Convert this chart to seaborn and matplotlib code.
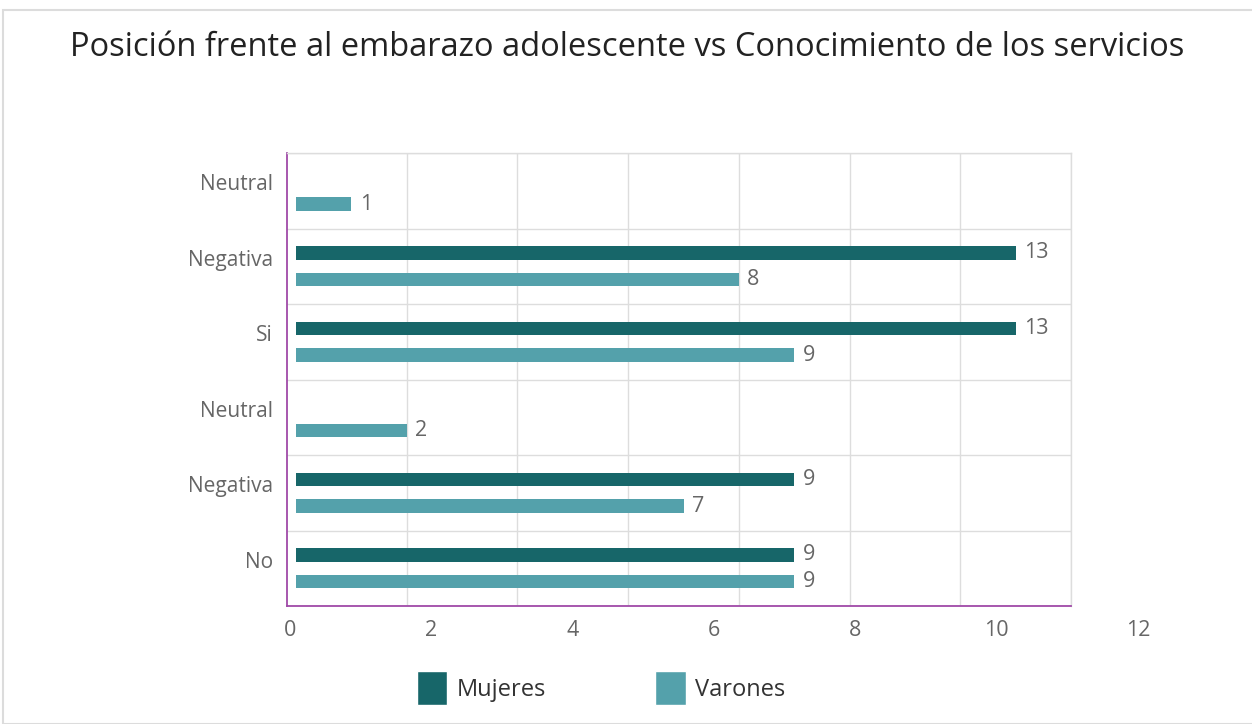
import matplotlib
matplotlib.use("Agg")
import matplotlib.pyplot as plt
import matplotlib.transforms as mtransforms
import seaborn as sns
import pandas as pd
import numpy as np
from matplotlib.patches import Rectangle

# ---- data ----
filas = ["Si-Neutral", "Si-Negativa", "Si", "No-Neutral", "No-Negativa", "No"]
etiquetas = ["Neutral", "Negativa", "Si", "Neutral", "Negativa", "No"]
mujeres = [np.nan, 13, 13, np.nan, 9, 9]
varones = [1, 8, 9, 2, 7, 9]
series = ["Mujeres", "Varones"]
colores = ["#176669", "#54a1ab"]
xticks_lbl = [0, 2, 4, 6, 8, 10, 12]
titulo = "Posición frente al embarazo adolescente vs Conocimiento de los servicios"

df = pd.DataFrame({
    "fila": filas * 2,
    "valor": mujeres + varones,
    "serie": [series[0]] * len(filas) + [series[1]] * len(filas),
})

sns.set_theme(style="white")
FONT = ["Open Sans", "DejaVu Sans"]
plt.rcParams["font.family"] = FONT

W, H = 1252, 724
fig = plt.figure(figsize=(W / 100, H / 100), dpi=100)

# card border
fig.patches.append(Rectangle((3 / W, 0), 1.2, 1 - 10 / H, transform=fig.transFigure,
                             fill=False, edgecolor="#dcdcdc", linewidth=1.5))

ax_l, ax_r, ax_t, ax_b = 287, 1071, 153, 606
ax = fig.add_axes([ax_l / W, 1 - ax_b / H, (ax_r - ax_l) / W, (ax_b - ax_t) / H])

sns.barplot(data=df, y="fila", x="valor", hue="serie", order=filas,
            hue_order=series, palette=colores, orient="h", width=0.712, gap=0.5,
            ax=ax, legend=False, saturation=1, linewidth=0, err_kws={"linewidth": 0})

ax.set_xlim(-0.163, 14)
ax.set_ylim(len(filas) - 0.5, -0.5)
ax.set_xticks(np.arange(2, 15, 2))
ax.set_xticklabels([])
ax.set_yticks(range(len(filas)))
ax.set_yticklabels(etiquetas, fontsize=15, color="#666666")
ax.set_yticks(np.arange(-0.5, len(filas), 1), minor=True)
ax.tick_params(axis="both", which="both", length=0)
ax.tick_params(axis="y", pad=10)
shift = mtransforms.ScaledTranslation(0, 6 / 72, fig.dpi_scale_trans)
for lbl in ax.get_yticklabels():
    lbl.set_transform(lbl.get_transform() + shift)
ax.grid(True, axis="x", which="major", color="#dddddd", linewidth=1)
ax.grid(True, axis="y", which="minor", color="#dddddd", linewidth=1)
ax.grid(False, axis="y", which="major")
ax.set_axisbelow(True)
ax.set_xlabel("")
ax.set_ylabel("")
for s in ["left", "bottom"]:
    ax.spines[s].set_color("#a04aa8")
    ax.spines[s].set_linewidth(1.3)
for s in ["top", "right"]:
    ax.spines[s].set_color("#dddddd")
    ax.spines[s].set_linewidth(1)

for cont in ax.containers:
    ax.bar_label(cont, fmt="%g", padding=6, fontsize=15.5, color="#666666")

# x tick labels (rendered offset from the grid as in the reference)
ax2 = fig.add_axes([290 / W, 1 - ax_b / H, (1138 - 290) / W, 0.0001])
ax2.set_xlim(0, 12)
ax2.set_xticks(xticks_lbl)
ax2.set_xticklabels([str(v) for v in xticks_lbl], fontsize=15.5, color="#666666")
ax2.tick_params(axis="x", length=0, pad=10)
ax2.set_yticks([])
for s in ax2.spines.values():
    s.set_visible(False)
ax2.patch.set_visible(False)

fig.text(70 / W, 1 - 48 / H, titulo, fontsize=23.5, color="#222222", va="center", ha="left")

handles = [Rectangle((0, 0), 1, 1, facecolor=c) for c in colores]
fig.legend(handles, series, loc="center", bbox_to_anchor=(601 / W, 1 - 688 / H), ncol=2,
           frameon=False, fontsize=17, handlelength=1.3, handleheight=1.9,
           handletextpad=0.4, columnspacing=4.6, labelcolor="#333333")

fig.savefig("out.png", dpi=100)
